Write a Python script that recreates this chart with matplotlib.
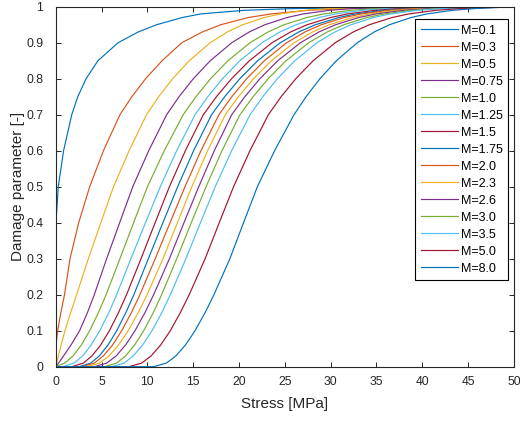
import matplotlib
matplotlib.use("Agg")
import matplotlib.pyplot as plt
import numpy as np

plt.rcParams["font.family"] = ["Liberation Sans", "DejaVu Sans"]

levels = [0.0, 0.0, 0.01, 0.03, 0.06, 0.1, 0.15, 0.2, 0.3, 0.4, 0.5, 0.6, 0.7, 0.75,
          0.8, 0.85, 0.9, 0.93, 0.95, 0.97, 0.98, 0.99, 0.995, 1.0]

# stress [MPa] reached at each level, one list per curve
s_m01 = [0, 0, 0, 0, 0, 0, 0, 0, 0, 0.02, 0.27, 0.85, 1.74, 2.4, 3.3, 4.6, 6.8, 9.0, 11.0, 13.8, 15.8, 20.5, 26.0, 50]
s_m03 = [0, 0, 0, 0, 0.03, 0.2, 0.55, 0.95, 1.55, 2.5, 3.7, 5.2, 7.0, 8.3, 9.8, 11.6, 13.75, 16.0, 18.0, 21.0, 23.5, 27.5, 31.5, 50]
s_m05 = [0, 0, 0.09, 0.28, 0.58, 1.0, 1.62, 2.27, 3.55, 4.92, 6.3, 8.0, 9.9, 11.22, 12.75, 14.56, 16.85, 18.73, 20.39, 22.76, 24.5, 27.25, 29.83, 50]
s_m075 = [0, 0, 0.3, 0.85, 1.65, 2.6, 3.45, 4.2, 5.55, 6.97, 8.4, 10.14, 12.1, 13.45, 15.01, 16.86, 19.2, 21.12, 22.82, 25.24, 27.01, 29.85, 32.48, 50]
s_m10 = [0, 0, 0.98, 1.88, 2.78, 3.7, 4.65, 5.49, 7.0, 8.49, 10.0, 11.84, 13.9, 15.29, 16.89, 18.79, 21.2, 23.17, 24.92, 27.4, 29.23, 32.15, 34.85, 50]
s_m125 = [0, 0.75, 2.0, 2.93, 3.85, 4.8, 5.78, 6.64, 8.2, 9.79, 11.4, 13.19, 15.2, 16.59, 18.19, 20.09, 22.5, 24.47, 26.22, 28.7, 30.53, 33.45, 36.15, 50]
s_m15 = [0, 1.74, 3.01, 3.95, 4.89, 5.85, 6.84, 7.72, 9.3, 10.84, 12.4, 14.14, 16.1, 17.53, 19.18, 21.13, 23.6, 25.63, 27.43, 29.98, 31.85, 34.85, 37.63, 50]
s_m175 = [0, 2.54, 3.81, 4.75, 5.69, 6.65, 7.64, 8.52, 10.1, 11.69, 13.3, 15.04, 17.0, 18.43, 20.08, 22.03, 24.5, 26.53, 28.33, 30.88, 32.75, 35.75, 38.53, 50]
s_m20 = [0, 2.86, 4.2, 5.19, 6.19, 7.2, 8.25, 9.18, 10.85, 12.47, 14.1, 15.84, 17.8, 19.21, 20.83, 22.76, 25.2, 27.2, 28.97, 31.49, 33.34, 36.3, 39.04, 50]
s_m23 = [0, 3.38, 4.77, 5.81, 6.84, 7.9, 8.99, 9.96, 11.7, 13.27, 14.85, 16.57, 18.5, 19.93, 21.58, 23.53, 26.0, 28.03, 29.83, 32.38, 34.25, 37.25, 40.03, 50]
s_m26 = [0, 4.19, 5.56, 6.59, 7.61, 8.65, 9.73, 10.68, 12.4, 13.99, 15.6, 17.3, 19.2, 20.63, 22.28, 24.23, 26.7, 28.73, 30.53, 33.08, 34.95, 37.95, 40.73, 50]
s_m30 = [0, 5.32, 6.64, 7.62, 8.6, 9.6, 10.64, 11.55, 13.2, 14.79, 16.4, 18.14, 20.1, 21.53, 23.18, 25.13, 27.6, 29.63, 31.43, 33.98, 35.85, 38.85, 41.63, 50]
s_m35 = [0, 6.1, 7.45, 8.46, 9.47, 10.5, 11.57, 12.5, 14.2, 15.79, 17.4, 19.19, 21.2, 22.59, 24.19, 26.09, 28.5, 30.47, 32.22, 34.7, 36.53, 39.45, 42.15, 50]
s_m50 = [0, 7.98, 9.37, 10.41, 11.44, 12.5, 13.59, 14.56, 16.3, 17.84, 19.4, 21.19, 23.2, 24.59, 26.19, 28.09, 30.5, 32.47, 34.22, 36.7, 38.53, 41.45, 44.15, 50]
s_m80 = [0, 10.68, 12.07, 13.11, 14.14, 15.2, 16.29, 17.26, 19.0, 20.49, 22.0, 23.88, 26.0, 27.31, 28.83, 30.62, 32.9, 34.76, 36.42, 38.77, 40.49, 43.25, 45.8, 50]

labels = ["M=0.1", "M=0.3", "M=0.5", "M=0.75", "M=1.0", "M=1.25", "M=1.5", "M=1.75",
          "M=2.0", "M=2.3", "M=2.6", "M=3.0", "M=3.5", "M=5.0", "M=8.0"]
curves = [s_m01, s_m03, s_m05, s_m075, s_m10, s_m125, s_m15, s_m175,
          s_m20, s_m23, s_m26, s_m30, s_m35, s_m50, s_m80]

# matlab default colour order
matlab_colors = ["#0072BD", "#D95319", "#EDB120", "#7E2F8E", "#77AC30", "#4DBEEE", "#A2142F"]

fig = plt.figure(figsize=(5.2, 4.21), dpi=100)
ax = fig.add_axes([0.1073, 0.129, 0.881, 0.855])

for i, (stress, lab) in enumerate(zip(curves, labels)):
    ax.plot(stress, levels, color=matlab_colors[i % 7], lw=0.85, label=lab)

ax.set_xlim(0, 50)
ax.set_ylim(0, 1)
ax.set_xticks(np.arange(0, 51, 5))
ax.set_yticks(np.arange(0, 1.01, 0.1))
ax.set_yticklabels(["0", "0.1", "0.2", "0.3", "0.4", "0.5", "0.6", "0.7", "0.8", "0.9", "1"])

grey = "#262626"
for sp in ax.spines.values():
    sp.set_color(grey)
    sp.set_linewidth(0.8)
ax.tick_params(direction="in", top=True, right=True, length=3.5, width=0.7,
               colors=grey, labelsize=8.7)
ax.tick_params(axis="x", pad=7)
ax.tick_params(axis="y", pad=9)

ax.set_xlabel("Stress [MPa]", fontsize=11, color=grey)
ax.set_ylabel("Damage parameter [-]", fontsize=11, color=grey)
ax.xaxis.set_label_coords(0.5, -0.084)
ax.yaxis.set_label_coords(-0.067, 0.5)

leg = ax.legend(loc="upper right", bbox_to_anchor=(0.988, 0.966), borderaxespad=0,
                fontsize=9, fancybox=False, framealpha=1, handlelength=3.0,
                handletextpad=0.2, labelspacing=0.4, borderpad=0.45)
leg.get_frame().set_edgecolor("black")
leg.get_frame().set_linewidth(0.8)

fig.savefig("out.png", dpi=100)
